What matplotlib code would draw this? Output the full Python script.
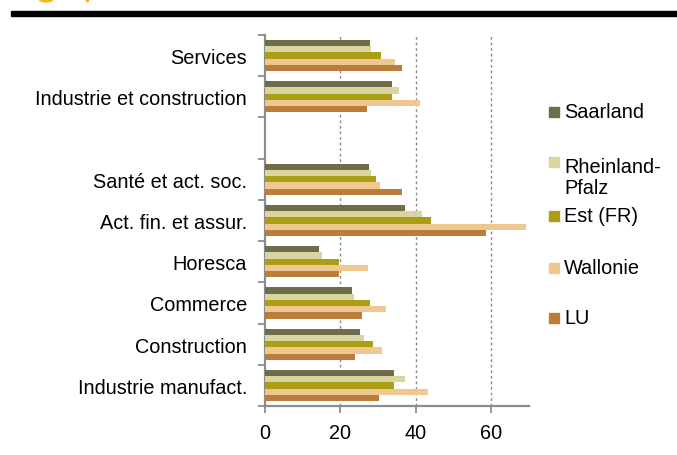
import matplotlib
matplotlib.use("Agg")
import matplotlib.pyplot as plt
from matplotlib.patches import Rectangle, Ellipse
import numpy as np

plt.rcParams['font.family'] = ['Liberation Sans', 'DejaVu Sans']

categories = ["Services", "Industrie et construction", "",
              "Santé et act. soc.", "Act. fin. et assur.", "Horesca",
              "Commerce", "Construction", "Industrie manufact."]

series_names = ["Saarland", "Rheinland-\nPfalz", "Est (FR)", "Wallonie", "LU"]
colors = ["#6f6c4a", "#d9d5a1", "#ab9d14", "#eec890", "#bb7d3a"]

saarland   = [27.8, 33.6, np.nan, 27.6, 37.0, 14.3, 23.0, 25.3, 34.1]
rheinland  = [28.1, 35.6, np.nan, 28.0, 41.5, 15.2, 23.5, 26.3, 37.2]
est_fr     = [30.8, 33.6, np.nan, 29.5, 43.9, 19.7, 27.9, 28.7, 34.3]
wallonie   = [34.6, 41.1, np.nan, 30.6, 69.3, 27.2, 32.1, 31.1, 43.2]
lu         = [36.2, 27.1, np.nan, 36.2, 58.7, 19.6, 25.6, 23.8, 30.2]
series = [saarland, rheinland, est_fr, wallonie, lu]

x_ticks = [0, 20, 40, 60]

FS = 14.3
W, H = 677, 456
fig = plt.figure(figsize=(W / 100, H / 100), dpi=100)
ax = fig.add_axes([265 / W, 1 - 407 / H, (529 - 265) / W, (407 - 36) / H])

n = len(categories)
y = np.arange(n)
bh = 0.152
offsets = (np.arange(5) - 2) * bh
for vals, col, off in zip(series, colors, offsets):
    v = np.array(vals, dtype=float)
    mask = ~np.isnan(v)
    ax.barh(y[mask] + off, v[mask], height=bh, color=col,
            edgecolor="none", zorder=3)

ax.set_xlim(0, 70)
ax.set_ylim(n - 0.5, -0.5)
ax.set_xticks(x_ticks)
ax.set_xticklabels([str(t) for t in x_ticks], fontsize=FS)
ax.set_yticks(y)
ax.set_yticklabels(categories, fontsize=FS)
ax.tick_params(axis='y', which='major', length=0, pad=13)
ax.set_yticks(np.arange(n + 1) - 0.5, minor=True)
ax.tick_params(axis='y', which='minor', length=5, width=1.3, color="#8c8c8c",
               direction='out')
ax.tick_params(axis='x', length=5, width=1.3, color="#8c8c8c", direction='out',
               pad=7)

for t in x_ticks[1:]:
    ax.axvline(t, color="#8c8c8c", linestyle=(0, (2, 2)), linewidth=1.0, zorder=1)

for s in ["top", "right"]:
    ax.spines[s].set_visible(False)
for s in ["left", "bottom"]:
    ax.spines[s].set_color("#8c8c8c")
    ax.spines[s].set_linewidth(1.6)

# legend drawn as squares with labels
leg_sq = [113, 163, 217, 269, 319]
for name, col, ly in zip(series_names, colors, leg_sq):
    fig.patches.append(Rectangle((549 / W, 1 - (ly + 5) / H), 10 / W, 10 / H,
                                 transform=fig.transFigure, color=col))
    if '\n' in name:
        fig.text(564 / W, 1 - 158 / H, name, fontsize=FS, va='top',
                 ha='left', linespacing=1.15)
    else:
        fig.text(564 / W, 1 - ly / H, name, fontsize=FS, va='center', ha='left')

# header rule
fig.patches.append(Rectangle((11 / W, 1 - 17 / H), (677 - 11) / W, 5 / H,
                             transform=fig.transFigure, color="black"))
fig.patches.append(Ellipse((46 / W, 1 - 0 / H), 14 / W, 6 / H,
                           transform=fig.transFigure, color="#f2b81c"))
fig.patches.append(Rectangle((86 / W, 1 - 2 / H), 2 / W, 2 / H,
                             transform=fig.transFigure, color="#f2b81c"))

fig.savefig("out.png", dpi=100)
